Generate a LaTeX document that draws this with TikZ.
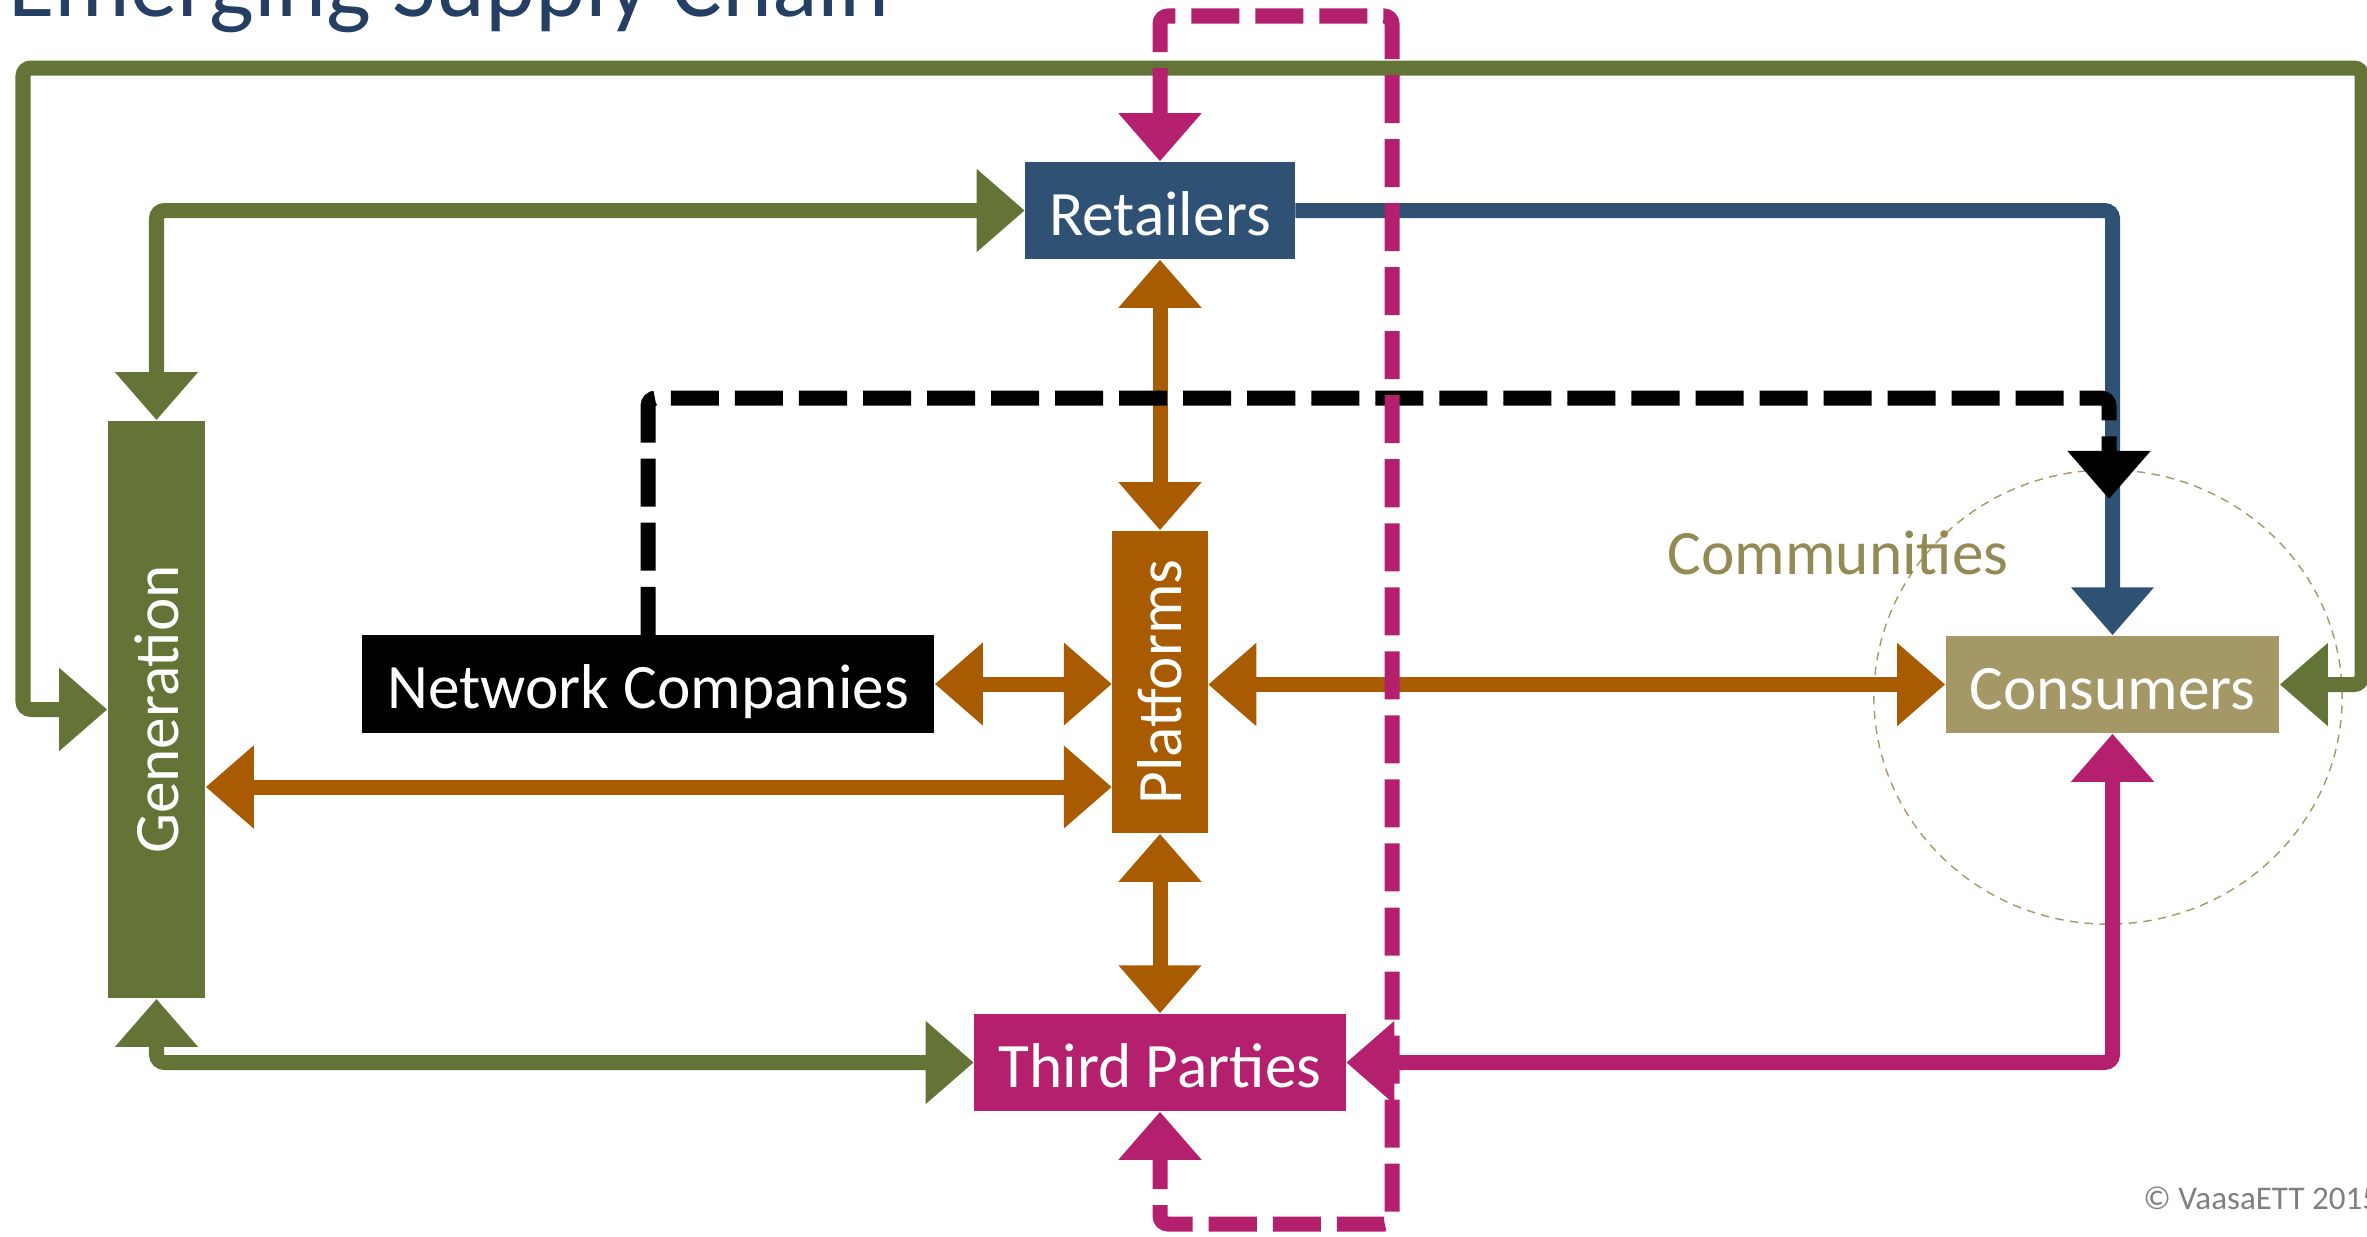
\documentclass[tikz,border=0pt]{standalone}
\usepackage{fontspec}
\setmainfont{Carlito}
\usetikzlibrary{arrows.meta}
\definecolor{genc}{HTML}{647437}
\definecolor{retc}{HTML}{2F5274}
\definecolor{platc}{HTML}{A85B00}
\definecolor{thirdc}{HTML}{B41F6E}
\definecolor{consc}{HTML}{A49966}
\definecolor{commc}{HTML}{948A54}
\definecolor{titlec}{HTML}{243F63}
\definecolor{copyc}{HTML}{7F7F7F}
\begin{document}
\begin{tikzpicture}[x=0.01cm,y=-0.01cm,
  box/.style={inner sep=0pt,text=white,font=\fontsize{18pt}{21pt}\selectfont,
    text height=0.73cm,text depth=0.24cm},
  boxlabel/.style={inner sep=0pt,text=white,font=\fontsize{18pt}{21pt}\selectfont,rotate=90},
  link/.style={line width=0.15cm,rounded corners=0.08cm},
  oneway/.style={-{Triangle[length=0.48cm,width=0.8cm]}},
  twoway/.style={{Triangle[length=0.48cm,width=0.8cm]}-{Triangle[length=0.48cm,width=0.8cm]}},
  dashline/.style={dash pattern=on 0.48cm off 0.16cm}]
\useasboundingbox (0,0) rectangle (2367,1236);

% title and credit
\node[anchor=base west,text=titlec,font=\fontsize{27pt}{32pt}\selectfont] (title) at (-4,16) {Emerging Supply Chain};
\node[anchor=base west,text=copyc,font=\fontsize{9.4pt}{11pt}\selectfont] (credit) at (2131,1209) {© VaasaETT 2015};

% communities circle
\draw[consc,line width=0.4pt,dash pattern=on 2.4pt off 1.8pt] (2108,697) ellipse [x radius=2.34cm,y radius=2.27cm];
\node[anchor=base,text=commc,font=\fontsize{18pt}{21pt}\selectfont] (comm) at (1838,574) {Communities};

% actors
\node[box,fill=retc,minimum width=2.69cm] (ret) at (1160,210.5) {Retailers};
\node[box,fill=platc,minimum width=0.95cm,minimum height=3.02cm,text height=,text depth=] (plat) at (1160,682) {};
\node[boxlabel] (plattext) at (plat.center) {Platforms};
\node[box,fill=thirdc,minimum width=3.71cm] (tp) at (1160,1062.5) {Third Parties};
\node[box,fill=genc,minimum width=0.97cm,minimum height=5.77cm,text height=,text depth=] (gen) at (156.5,709.5) {};
\node[boxlabel] (gentext) at (gen.center) {Generation};
\node[box,fill=black,minimum width=5.72cm] (nc) at (648,684) {Network Companies};
\node[box,fill=consc,minimum width=3.33cm] (cons) at (2112.5,684.5) {Consumers};

% turning points
\coordinate (gl) at (23,68);
\coordinate (gr) at (2362,68);
\coordinate (gp) at (156,787);
\coordinate (bkc) at (2109,398);
\coordinate (bk) at (2109,499);
\coordinate (m1) at (1392,16);
\coordinate (m2) at (1392,1224);

% generation links
\draw[link,genc,twoway] (gen.west) -| (gl) -- (gr) |- (cons.east);
\draw[link,genc,twoway] (gen.north) |- (ret.west);
\draw[link,genc,twoway] (gen.south) |- (tp.west);

% retailers to consumers
\draw[link,retc,oneway] (ret.east) -| (cons.north);

% platform links
\draw[link,platc,twoway] (ret.south) -- (plat.north);
\draw[link,platc,twoway] (plat.south) -- (tp.north);
\draw[link,platc,twoway] (nc.east) -- (nc.east -| plat.west);
\draw[link,platc,twoway] (gen.east |- gp) -- (plat.west |- gp);
\draw[link,platc,twoway] (plat.east |- cons.west) -- (cons.west);

% network companies to consumers
\draw[link,black,dashline,oneway] (nc.north) |- (bkc) -- (bk);

% third parties
\draw[link,thirdc,twoway] (cons.south) |- (tp.east);
\draw[link,thirdc,dashline,twoway] (ret.north) |- (m1) -- (m2) -| (tp.south);
\end{tikzpicture}
\end{document}
